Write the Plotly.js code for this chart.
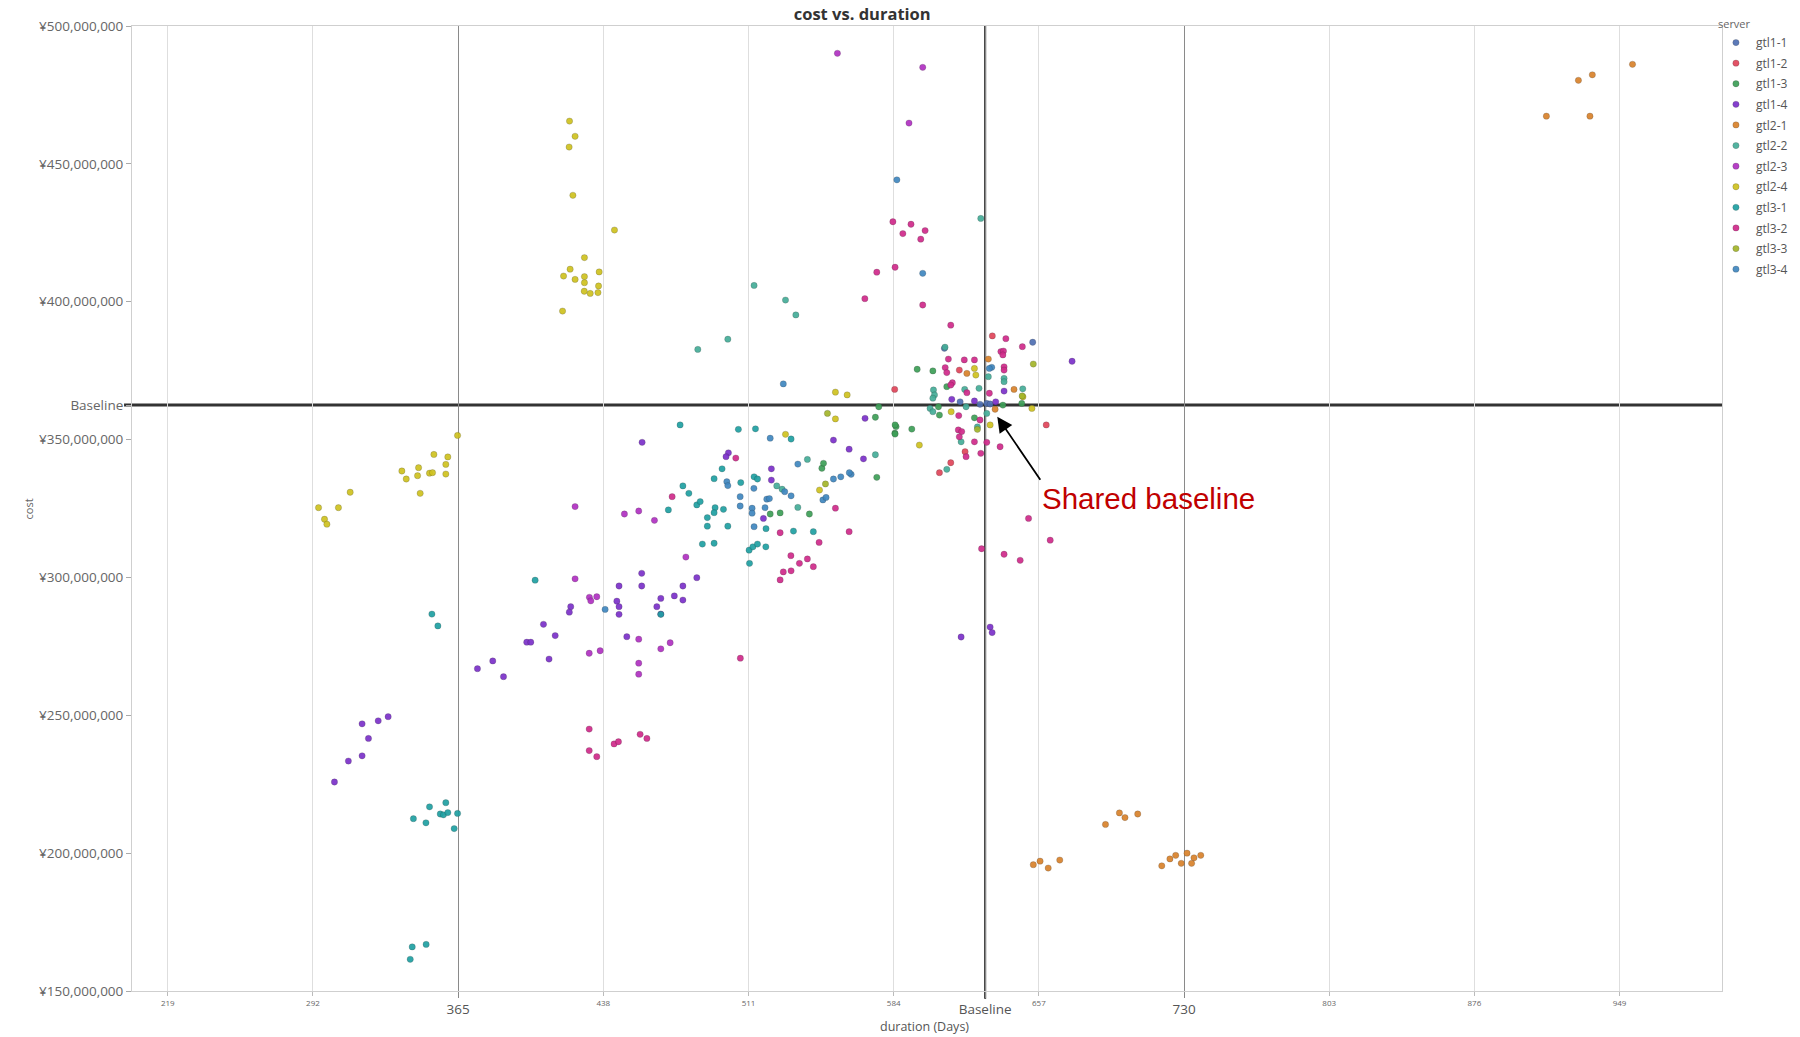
<!DOCTYPE html>
<html>
<head>
<meta charset="utf-8">
<script src="https://cdn.plot.ly/plotly-3.0.1.min.js"></script>
<style>
  html, body { margin: 0; padding: 0; background: #ffffff; }
  #chart { width: 1800px; height: 1037px; }
</style>
</head>
<body>
<div id="chart"></div>
<script>
// ---------------- DATA ----------------
const servers = ['gtl1-1','gtl1-2','gtl1-3','gtl1-4','gtl2-1','gtl2-2','gtl2-3','gtl2-4','gtl3-1','gtl3-2','gtl3-3','gtl3-4'];

// duration in days, cost in millions of yen
const gtl1_1_days  = [630.8, 632.5, 617.4, 627.4, 653.9, 609.5];
const gtl1_1_costM = [363.1, 362.9, 363.7, 362.8, 385.3, 383.1];

const gtl1_2_days  = [617.0, 633.6, 660.7, 584.5, 612.7, 607.0, 619.9];
const gtl1_2_costM = [375.2, 387.6, 355.3, 368.2, 341.6, 338.0, 345.6];

const gtl1_3_days  = [547.9, 548.7, 575.5, 574.8, 576.5, 585.2, 584.6, 521.9, 526.9, 541.6, 595.8, 603.7, 610.7, 606.5, 607.0, 638.9, 648.4, 624.6, 584.7, 584.7, 593.1];
const gtl1_3_costM = [339.6, 341.4, 336.3, 358.1, 361.9, 354.7, 352.3, 323.0, 323.4, 323.0, 375.5, 374.9, 369.2, 361.9, 358.9, 362.5, 363.1, 357.9, 355.3, 352.0, 353.8];

const gtl1_4_days  = [500.9, 499.7, 522.5, 522.5, 518.5, 457.5, 445.9, 444.8, 445.9, 445.9, 466.9, 464.9, 466.9, 473.7, 478.0, 478.0, 485.0, 457.3, 457.3, 421.6, 420.9, 407.9, 413.8, 399.5, 401.5, 410.7, 382.4, 374.7, 387.8, 449.8, 316.7, 324.8, 329.8, 319.9, 316.7, 309.8, 302.8, 553.7, 561.6, 569.6, 568.8, 639.5, 673.7, 613.2, 624.6, 635.3, 617.9, 632.5, 633.5];
const gtl1_4_costM = [345.2, 343.8, 339.4, 335.3, 321.4, 349.0, 296.9, 291.4, 289.4, 286.6, 292.4, 289.4, 286.7, 293.3, 291.8, 296.9, 299.9, 301.5, 296.9, 289.4, 287.4, 283.0, 278.9, 276.5, 276.5, 270.4, 269.7, 266.9, 264.0, 278.5, 246.9, 248.0, 249.5, 241.6, 235.3, 233.4, 225.8, 349.8, 346.5, 357.7, 343.0, 367.6, 378.4, 364.6, 364.0, 363.7, 278.4, 282.0, 280.0];

const gtl2_1_days  = [912.2, 928.3, 935.3, 934.1, 955.5, 654.2, 657.6, 661.7, 667.5, 690.5, 697.5, 700.3, 706.7, 718.8, 722.9, 725.8, 728.6, 731.5, 735.0, 738.4, 733.8, 631.6, 644.5, 635.0, 620.8];
const gtl2_1_costM = [467.3, 480.3, 482.3, 467.3, 486.1, 195.8, 197.1, 194.6, 197.5, 210.4, 214.6, 212.9, 214.2, 195.4, 197.9, 199.2, 196.3, 200.0, 198.3, 199.2, 196.3, 379.2, 368.2, 361.0, 374.0];

const gtl2_2_days  = [604.0, 604.5, 603.7, 626.9, 648.9, 602.3, 603.7, 620.4, 630.8, 639.5, 639.5, 626.1, 631.6, 619.7, 610.7, 617.9, 513.8, 529.6, 534.8, 500.6, 485.5, 627.8, 609.8, 540.6, 574.8, 525.2, 527.9, 535.8];
const gtl2_2_costM = [368.0, 366.2, 365.0, 368.6, 368.4, 361.3, 360.1, 361.9, 359.5, 372.2, 371.0, 354.6, 372.8, 368.2, 339.2, 349.2, 405.9, 400.6, 395.2, 386.4, 382.7, 430.2, 383.5, 342.8, 344.5, 333.2, 332.0, 325.4];

const gtl2_3_days  = [555.7, 598.6, 591.7, 423.8, 423.8, 431.0, 431.7, 434.7, 430.9, 436.4, 455.8, 455.8, 455.8, 466.9, 471.6, 448.6, 455.8, 463.7, 479.5];
const gtl2_3_costM = [490.1, 485.0, 464.8, 325.7, 299.5, 292.8, 291.5, 293.0, 272.5, 273.4, 277.6, 268.9, 264.9, 274.1, 276.3, 323.0, 324.1, 320.7, 307.4];

const gtl2_4_days  = [294.8, 304.8, 297.8, 299.0, 310.7, 336.7, 338.9, 345.1, 344.6, 345.9, 350.6, 352.1, 352.8, 358.8, 358.8, 359.8, 364.7, 421.0, 423.8, 420.8, 422.7, 443.6, 428.5, 421.3, 418.0, 423.8, 428.5, 428.5, 435.9, 428.4, 431.4, 435.6, 435.3, 417.5, 554.7, 560.6, 554.7, 529.6, 546.7, 624.6, 625.3, 596.9, 653.5, 649.0, 632.5, 612.9];
const gtl2_4_costM = [325.3, 325.3, 321.1, 319.3, 330.9, 338.6, 335.7, 339.8, 336.9, 330.5, 337.8, 338.0, 344.6, 337.5, 341.0, 343.7, 351.5, 465.5, 460.0, 456.1, 438.6, 426.0, 416.0, 411.8, 409.3, 408.1, 409.1, 406.9, 410.8, 403.8, 403.0, 405.7, 403.3, 396.6, 367.2, 366.2, 357.5, 351.9, 331.7, 375.8, 373.4, 348.0, 361.3, 365.5, 355.3, 360.1];

const gtl3_1_days  = [350.6, 358.8, 342.5, 348.8, 356.0, 357.6, 359.8, 363.0, 364.7, 341.9, 348.9, 340.9, 351.8, 354.8, 403.7, 466.9, 476.6, 505.9, 514.5, 532.4, 497.7, 493.7, 478.0, 481.0, 507.1, 513.8, 515.5, 485.0, 486.7, 494.2, 498.4, 470.7, 490.3, 490.3, 500.6, 493.7, 519.8, 533.6, 543.6, 487.8, 493.7, 511.3, 513.2, 515.5, 519.7, 511.5];
const gtl3_1_costM = [216.8, 218.3, 212.5, 211.0, 214.2, 213.9, 214.7, 208.9, 214.4, 166.0, 166.9, 161.5, 286.7, 282.4, 299.0, 286.6, 355.3, 353.7, 353.9, 350.2, 339.4, 335.8, 333.2, 330.5, 334.4, 336.5, 335.7, 326.3, 327.5, 325.3, 324.7, 324.5, 321.7, 318.6, 318.6, 323.5, 317.7, 316.8, 316.6, 312.1, 312.4, 309.9, 311.1, 312.1, 311.1, 305.1];

const gtl3_2_days  = [583.6, 592.7, 588.6, 599.8, 597.6, 575.5, 584.7, 569.5, 598.6, 612.7, 504.6, 472.6, 554.7, 561.6, 526.9, 546.5, 532.3, 536.6, 540.6, 543.6, 532.4, 528.5, 526.9, 430.9, 430.9, 434.7, 443.4, 445.6, 456.5, 459.9, 506.9, 640.4, 648.7, 637.9, 639.2, 638.9, 611.5, 619.5, 624.6, 609.9, 610.7, 639.5, 639.5, 613.5, 612.7, 616.7, 627.4, 616.5, 618.2, 617.0, 624.6, 630.8, 637.5, 620.4, 627.8, 620.8, 632.1, 651.8, 662.7, 639.5, 647.6, 628.2];
const gtl3_2_costM = [429.0, 428.1, 424.7, 425.8, 422.7, 410.7, 412.5, 401.1, 398.8, 391.5, 343.3, 329.3, 325.1, 316.6, 316.2, 312.7, 307.9, 305.1, 306.7, 303.9, 302.4, 302.0, 299.1, 245.0, 237.2, 235.0, 239.6, 240.4, 243.1, 241.6, 270.7, 386.6, 383.7, 381.9, 382.1, 380.7, 379.2, 378.9, 378.9, 376.1, 374.3, 376.4, 375.2, 370.6, 369.8, 358.7, 357.1, 353.5, 352.9, 351.0, 349.2, 349.0, 347.4, 343.8, 345.0, 367.0, 366.8, 321.4, 313.5, 308.4, 306.2, 310.4];

const gtl3_3_days  = [550.7, 549.7, 626.1, 648.6, 654.2];
const gtl3_3_costM = [359.5, 333.9, 353.7, 365.8, 377.4];

const gtl3_4_days  = [521.9, 500.1, 500.6, 513.7, 506.8, 506.8, 529.2, 532.4, 535.8, 553.7, 557.4, 562.6, 561.7, 548.4, 550.0, 512.8, 512.8, 513.8, 519.3, 520.2, 521.5, 438.9, 528.5, 585.6, 598.6, 633.3, 632.1];
const gtl3_4_costM = [350.5, 334.7, 333.3, 332.3, 329.3, 325.9, 331.1, 329.6, 341.1, 335.7, 336.5, 337.4, 338.0, 328.1, 329.0, 325.1, 323.3, 318.4, 325.3, 328.4, 328.6, 288.4, 370.2, 444.2, 410.3, 376.2, 375.8];

// axis ticks and reference values
const xMinorTicks = [219, 292, 438, 511, 584, 657, 803, 876, 949];
const xMajorTicks = [365, 730];
const baselineDays = 630;
const baselineCostM = 362.5;
const yTicksM = [150, 200, 250, 300, 350, 400, 450, 500];
const annotationText = 'Shared baseline';
const chartTitle = 'cost vs. duration';
const xTitle = 'duration (Days)';
const yTitle = 'cost';
const legendTitle = 'server';
const baselineLabel = 'Baseline';

// ---------------- STYLE ----------------
const colors = ['#4f6fb3', '#e0455a', '#3d9f57', '#7b30c9', '#d9822b', '#45ad98',
                '#b030c2', '#cfc21f', '#1fa0a2', '#d02a8a', '#a3b52a', '#3f87c0'];

const allDays = [gtl1_1_days, gtl1_2_days, gtl1_3_days, gtl1_4_days, gtl2_1_days, gtl2_2_days,
                 gtl2_3_days, gtl2_4_days, gtl3_1_days, gtl3_2_days, gtl3_3_days, gtl3_4_days];
const allCost = [gtl1_1_costM, gtl1_2_costM, gtl1_3_costM, gtl1_4_costM, gtl2_1_costM, gtl2_2_costM,
                 gtl2_3_costM, gtl2_4_costM, gtl3_1_costM, gtl3_2_costM, gtl3_3_costM, gtl3_4_costM];

const traces = servers.map((name, i) => ({
  type: 'scatter',
  mode: 'markers',
  name: name,
  legendgroup: name,
  x: allDays[i],
  y: allCost[i].map(v => v * 1e6),
  marker: { size: 6.3, color: colors[i], opacity: 0.92, line: { width: 0.6, color: 'rgba(40,40,40,0.35)' } },
  hoverinfo: 'skip'
}));
// helper trace for the overlay axis carrying the major ticks
traces.push({ type: 'scatter', mode: 'markers', x: [], y: [], xaxis: 'x2', yaxis: 'y', showlegend: false, hoverinfo: 'skip' });

const fontFam = '"Open Sans", "Noto Sans", "DejaVu Sans", sans-serif';
const xRange = [201, 1000.5];
const yTickVals = yTicksM.map(v => v * 1e6).concat([baselineCostM * 1e6]);
const yTickText = yTicksM.map(v => '¥' + (v * 1e6).toLocaleString('en-US')).concat([baselineLabel]);

const layout = {
  width: 1800,
  height: 1037,
  paper_bgcolor: '#ffffff',
  plot_bgcolor: '#ffffff',
  margin: { l: 132, r: 78, t: 26, b: 46, autoexpand: false },
  font: { family: fontFam, color: '#555' },
  showlegend: true,
  title: {
    text: '<b>' + chartTitle + '</b>',
    x: 0.479, xref: 'container', xanchor: 'center',
    y: 0.986, yref: 'container', yanchor: 'middle',
    font: { size: 16.5, color: '#333', family: fontFam }
  },
  xaxis: {
    range: xRange,
    tickmode: 'array',
    tickvals: xMinorTicks,
    ticktext: xMinorTicks.map(String),
    tickfont: { size: 8, color: '#666' },
    ticks: 'outside', ticklen: 4, tickcolor: '#bbb',
    showgrid: true, gridcolor: '#dedede', gridwidth: 1,
    zeroline: false,
    showline: true, linecolor: '#cfcfcf', linewidth: 1, mirror: true
  },
  xaxis2: {
    overlaying: 'x', anchor: 'y', side: 'bottom',
    range: xRange,
    tickmode: 'array',
    tickvals: xMajorTicks.concat([baselineDays]),
    ticktext: xMajorTicks.map(String).concat([baselineLabel]),
    tickfont: { size: 13.5, color: '#555' },
    ticks: 'outside', ticklen: 6, tickcolor: '#888',
    showgrid: true, gridcolor: '#8a8a8a', gridwidth: 1,
    zeroline: false, showline: false
  },
  yaxis: {
    range: [150e6, 500e6],
    tickmode: 'array',
    tickvals: yTickVals,
    ticktext: yTickText,
    tickfont: { size: 13.5, color: '#666' },
    ticks: 'outside', ticklen: 5, tickcolor: '#aaa',
    showgrid: false, zeroline: false,
    showline: true, linecolor: '#cfcfcf', linewidth: 1, mirror: true
  },
  legend: {
    title: { text: legendTitle, font: { size: 11, color: '#666' } },
    x: 0.9962, xanchor: 'left', y: 1.0127, yanchor: 'top',
    font: { size: 12, color: '#555' },
    tracegroupgap: 1.6,
    bgcolor: 'rgba(0,0,0,0)'
  },
  shapes: [
    { type: 'line', xref: 'paper', yref: 'y', x0: -0.005, x1: 1, y0: baselineCostM * 1e6, y1: baselineCostM * 1e6,
      line: { color: '#333', width: 3 }, layer: 'below' },
    { type: 'line', xref: 'x', yref: 'paper', x0: baselineDays, x1: baselineDays, y0: -0.008, y1: 1,
      line: { color: '#222', width: 2 }, layer: 'below' }
  ],
  annotations: [
    { text: yTitle, xref: 'paper', yref: 'paper', x: -0.0708, y: 0.5, textangle: -90,
      showarrow: false, font: { size: 11, color: '#666' } },
    { text: xTitle, xref: 'paper', yref: 'paper', x: 0.4987, y: -0.0363, yanchor: 'middle',
      showarrow: false, font: { size: 12.5, color: '#555' } },
    { text: annotationText, xref: 'x', yref: 'y', x: 636.1, y: 358.3e6,
      showarrow: true, ax: 43, ay: 63, axref: 'pixel', ayref: 'pixel',
      xanchor: 'left', yanchor: 'top',
      arrowhead: 2, arrowsize: 1.7, arrowwidth: 1.8, arrowcolor: '#000',
      font: { family: '"Liberation Sans", Arial, sans-serif', size: 29.5, color: '#c00000' } }
  ],
  hovermode: false
};

Plotly.newPlot('chart', traces, layout, { displayModeBar: false, staticPlot: true });
</script>
</body>
</html>
